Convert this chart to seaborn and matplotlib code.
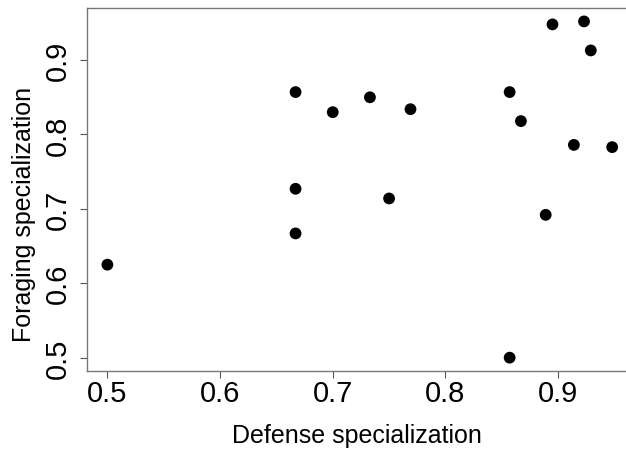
import pandas as pd
import matplotlib
matplotlib.use('Agg')
import matplotlib.pyplot as plt
import seaborn as sns

# values
defense = [0.500, 0.667, 0.667, 0.667, 0.700, 0.733, 0.750, 0.769,
           0.857, 0.857, 0.867, 0.889, 0.895, 0.914, 0.923, 0.929, 0.948]
foraging = [0.625, 0.857, 0.727, 0.667, 0.830, 0.850, 0.714, 0.834,
            0.857, 0.500, 0.818, 0.692, 0.948, 0.786, 0.952, 0.913, 0.783]
x_ticks = [0.5, 0.6, 0.7, 0.8, 0.9]
y_ticks = [0.5, 0.6, 0.7, 0.8, 0.9]

data = pd.DataFrame({'Defense specialization': defense,
                     'Foraging specialization': foraging})

sns.set_style('white', {'text.color': 'black', 'axes.labelcolor': 'black',
                        'xtick.color': 'black', 'ytick.color': 'black'})
plt.rcParams['font.family'] = ['Liberation Sans', 'DejaVu Sans']

fig = plt.figure(figsize=(6.26, 4.52), dpi=100)
ax = fig.add_axes([0.1395, 0.1777, 0.8685, 0.803])

sns.scatterplot(data=data, x='Defense specialization', y='Foraging specialization',
                color='black', edgecolor='none', s=72, ax=ax)

ax.set_xlim(0.4822, 0.9647)
ax.set_ylim(0.4825, 0.9704)
ax.set_xticks(x_ticks)
ax.set_yticks(y_ticks)
ax.set_xticklabels([f'{t:.1f}' for t in x_ticks], fontsize=21)
ax.set_yticklabels([f'{t:.1f}' for t in y_ticks], fontsize=21,
                   rotation=90, va='center')
ax.tick_params(axis='both', length=5, width=0.8, color='#555555',
               direction='out', bottom=True, left=True)
ax.tick_params(axis='x', pad=1)
ax.tick_params(axis='y', pad=6)

for sp in ax.spines.values():
    sp.set_color('#777777')
    sp.set_linewidth(1.0)
ax.spines['right'].set_visible(False)

ax.set_xlabel('Defense specialization', fontsize=18)
ax.set_ylabel('Foraging specialization', fontsize=18)
ax.xaxis.set_label_coords(0.495, -0.144)
ax.yaxis.set_label_coords(-0.094, 0.434)

fig.savefig('out.png', dpi=100)
